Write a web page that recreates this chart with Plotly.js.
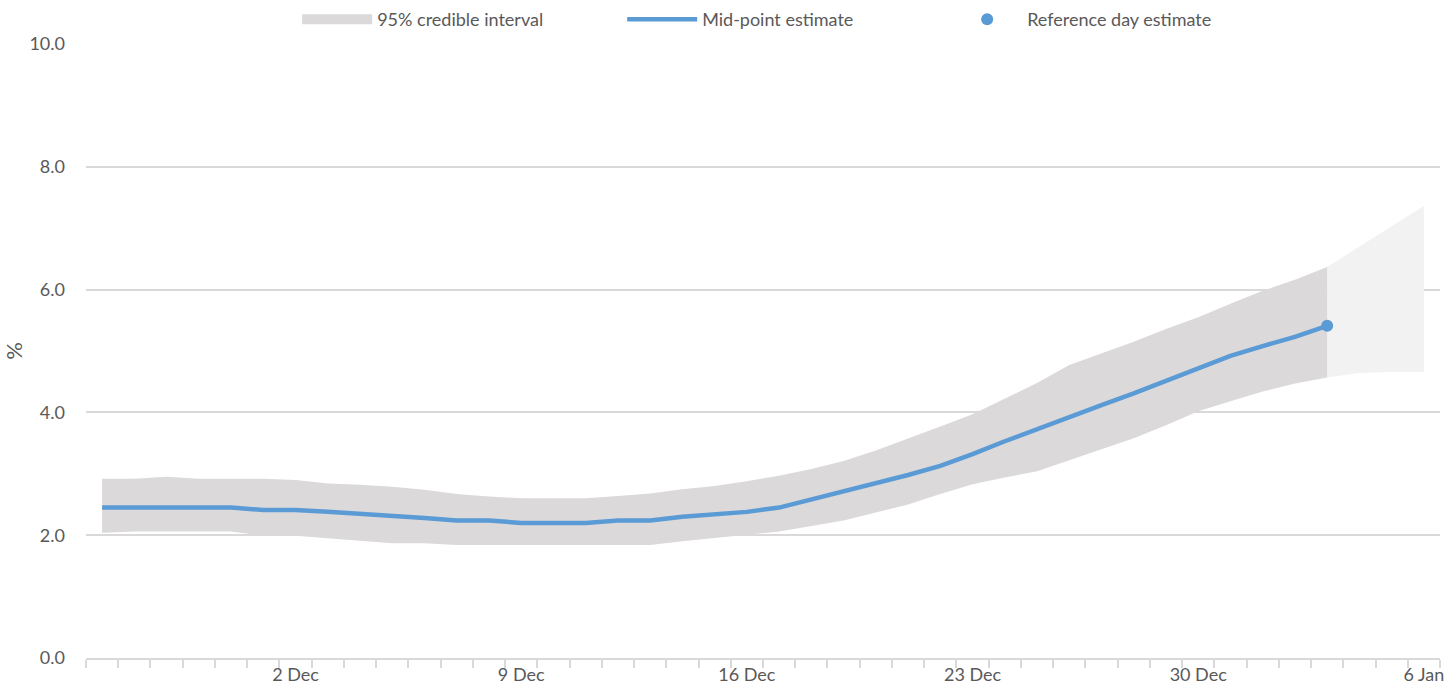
<!DOCTYPE html>
<html>
<head>
<meta charset="utf-8">
<script src="https://cdn.plot.ly/plotly-3.0.1.min.js"></script>
<style>body{margin:0;background:#fff}#chart{width:1451px;height:700px}</style>
</head>
<body>
<div id="chart"></div>
<script>
// one value per day, 26 Nov .. 3 Jan (index 0..38)
const midEstimate = [2.45, 2.45, 2.45, 2.45, 2.45, 2.41, 2.41, 2.38, 2.35, 2.31,
    2.28, 2.24, 2.24, 2.20, 2.20, 2.20, 2.24, 2.24, 2.30, 2.34,
    2.38, 2.45, 2.58, 2.71, 2.84, 2.98, 3.13, 3.32, 3.53, 3.73,
    3.92, 4.12, 4.31, 4.51, 4.72, 4.92, 5.08, 5.23, 5.41]
const upperCI = [2.92, 2.92, 2.95, 2.92, 2.92, 2.92, 2.90, 2.84, 2.82, 2.79,
    2.74, 2.67, 2.63, 2.60, 2.60, 2.60, 2.64, 2.68, 2.75, 2.80,
    2.88, 2.97, 3.08, 3.21, 3.38, 3.57, 3.77, 3.97, 4.22, 4.48,
    4.77, 4.96, 5.15, 5.36, 5.55, 5.77, 5.98, 6.16, 6.37]
const lowerCI = [2.04, 2.06, 2.06, 2.06, 2.06, 1.99, 1.99, 1.95, 1.91, 1.87,
    1.87, 1.84, 1.84, 1.84, 1.84, 1.84, 1.84, 1.84, 1.90, 1.95,
    2.00, 2.06, 2.15, 2.24, 2.37, 2.50, 2.67, 2.83, 2.94, 3.04,
    3.22, 3.40, 3.58, 3.79, 4.02, 4.18, 4.34, 4.47, 4.57]
// projection band, 3 Jan .. 6 Jan (index 38..41)
const projUpper = [6.37, 6.70, 7.02, 7.36]
const projLower = [4.57, 4.64, 4.66, 4.66]
const projStart = 38

const tickIdx = [6, 13, 20, 27, 34, 41]
const tickLabels = ['2 Dec', '9 Dec', '16 Dec', '23 Dec', '30 Dec', '6 Jan']

const xs = midEstimate.map((v, i) => i)
const xp = projUpper.map((v, i) => projStart + i)
const last = midEstimate.length - 1

const traces = [
    {x: xp, y: projLower, mode: 'lines', line: {width: 0}, showlegend: false, hoverinfo: 'skip'},
    {x: xp, y: projUpper, mode: 'lines', line: {width: 0}, fill: 'tonexty', fillcolor: '#F2F2F2', showlegend: false, hoverinfo: 'skip'},
    {x: xs, y: lowerCI, mode: 'lines', line: {width: 0}, showlegend: false, hoverinfo: 'skip'},
    {x: xs, y: upperCI, mode: 'lines', line: {width: 0}, fill: 'tonexty', fillcolor: '#DBD9DA', showlegend: false, hoverinfo: 'skip'},
    // legend entry for the band
    {x: [null], y: [null], mode: 'lines', line: {color: '#DBD9DA', width: 14}, name: '95% credible interval'},
    {x: xs, y: midEstimate, mode: 'lines', line: {color: '#5B9BD5', width: 4.5}, name: 'Mid-point estimate'},
    {x: [xs[last]], y: [midEstimate[last]], mode: 'markers', marker: {color: '#5B9BD5', size: 12}, name: 'Reference day estimate'}
]

const layout = {
    width: 1451,
    height: 700,
    margin: {l: 86, r: 11, t: 44, b: 42, autoexpand: false},
    paper_bgcolor: '#fff',
    plot_bgcolor: '#fff',
    font: {family: 'Lato, "Open Sans", sans-serif', size: 18, color: '#595959'},
    showlegend: true,
    legend: {orientation: 'h', x: 0.516, xanchor: 'center', y: 1.04, yanchor: 'middle',
        font: {size: 18}, traceorder: 'normal', itemwidth: 70, entrywidth: 240, entrywidthmode: 'pixels'},
    xaxis: {
        range: [-0.5, 41.5],
        tickvals: tickIdx,
        ticktext: tickLabels,
        ticks: '',
        showgrid: false,
        zeroline: false,
        showline: true,
        linecolor: '#D9D9D9',
        linewidth: 1.5,
        minor: {tick0: -0.5, dtick: 1, ticks: 'outside', ticklen: 8, tickcolor: '#D9D9D9', tickwidth: 1.5, showgrid: false}
    },
    yaxis: {
        range: [0, 10],
        dtick: 2,
        tickformat: '.1f',
        showgrid: true,
        gridcolor: '#D9D9D9',
        gridwidth: 1.5,
        zeroline: false,
        ticks: '',
        ticklabelstandoff: 20,
        title: {text: '%', standoff: 16}
    }
}

Plotly.newPlot('chart', traces, layout, {displayModeBar: false})
</script>
</body>
</html>
